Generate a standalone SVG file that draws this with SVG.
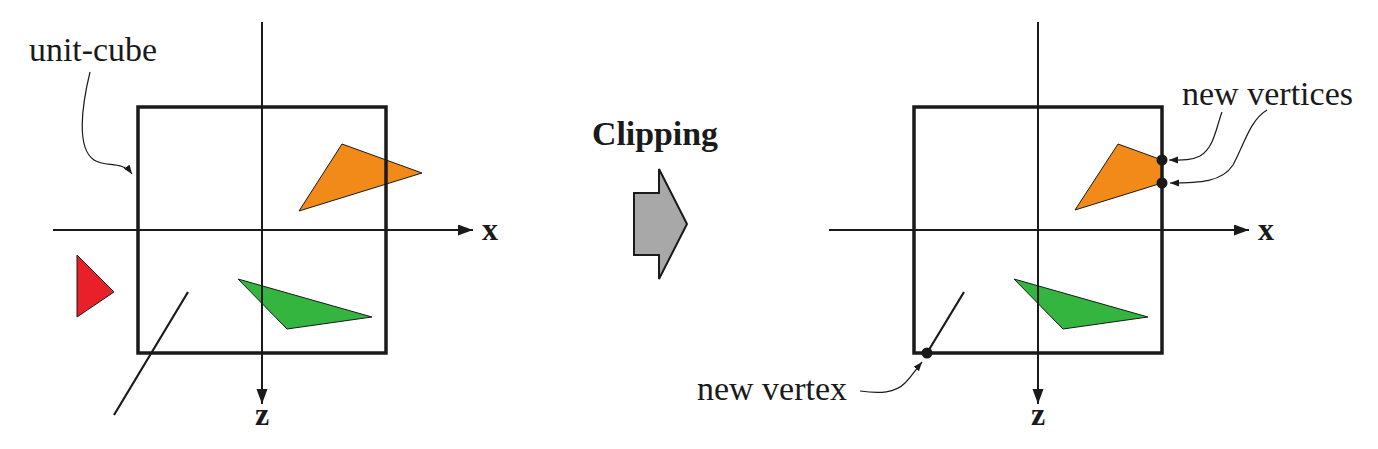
<svg xmlns="http://www.w3.org/2000/svg" width="1378" height="449" viewBox="0 0 1378 449">
<style>
.ax{stroke:#1a1a1a;stroke-width:2;fill:none}
.box{stroke:#1a1a1a;stroke-width:3.5;fill:none}
.tri{stroke:#1a1a1a;stroke-width:1}
.lead{stroke:#1a1a1a;stroke-width:1.2;fill:none}
.seg{stroke:#1a1a1a;stroke-width:2.2;fill:none}
.lbl{font-family:"Liberation Serif","Times New Roman",serif;font-size:34px;fill:#1a1a1a}
.axl{font-family:"Liberation Serif","Times New Roman",serif;font-size:32px;font-weight:bold;fill:#1a1a1a}
.dot{fill:#1a1a1a}
</style>
<defs>
<marker id="ah" markerWidth="16" markerHeight="12" refX="15" refY="5.5" orient="auto" markerUnits="userSpaceOnUse">
<path d="M0,0 L15,5.5 L0,11 Z" fill="#1a1a1a"/>
</marker>
<marker id="sh" markerWidth="10" markerHeight="8" refX="9" refY="3.5" orient="auto" markerUnits="userSpaceOnUse">
<path d="M0,0 L9,3.5 L0,7 Z" fill="#1a1a1a"/>
</marker>
</defs>

<g id="left-panel">
<g id="left-orange"><polygon class="tri" points="342,144 422,173 299,211" fill="#F28A1A"/></g>
<g id="left-red"><polygon class="tri" points="77,255 114,292 77,317" fill="#E8202A"/></g>
<g id="left-green"><polygon class="tri" points="238,279 372,317 287,329" fill="#33B540"/></g>
<g id="left-cube"><rect class="box" x="138" y="107" width="248" height="246"/></g>
<g id="left-line"><line class="seg" x1="188" y1="292" x2="114" y2="415"/></g>
<g id="left-axes">
<line class="ax" x1="262" y1="22" x2="262" y2="404" marker-end="url(#ah)"/>
<line class="ax" x1="53" y1="230" x2="473" y2="230" marker-end="url(#ah)"/>
<text class="axl" x="482" y="240">x</text>
<text class="axl" x="255" y="425">z</text>
</g>
<g id="unit-cube-label">
<text class="lbl" x="29" y="61" textLength="128" lengthAdjust="spacingAndGlyphs">unit-cube</text>
</g>
</g>

<g id="clipping">
<text class="lbl" x="592" y="145" font-weight="bold" textLength="126" lengthAdjust="spacingAndGlyphs">Clipping</text>
<polygon points="634,193 659,193 659,169 687,224 659,279 659,255 634,255" fill="#A8A8A8" stroke="#1a1a1a" stroke-width="2" stroke-linejoin="miter"/>
</g>

<g id="right-panel">
<g id="right-orange"><polygon class="tri" points="1118,144 1162,160 1162,183 1075,210" fill="#F28A1A"/></g>
<g id="right-green"><polygon class="tri" points="1014,279 1148,317 1063,329" fill="#33B540"/></g>
<g id="right-cube"><rect class="box" x="914" y="107" width="248" height="246"/></g>
<g id="right-line"><line class="seg" x1="964" y1="292" x2="927" y2="353"/></g>
<g id="right-axes">
<line class="ax" x1="1038" y1="22" x2="1038" y2="404" marker-end="url(#ah)"/>
<line class="ax" x1="829" y1="230" x2="1249" y2="230" marker-end="url(#ah)"/>
<text class="axl" x="1258" y="240">x</text>
<text class="axl" x="1031" y="425">z</text>
</g>
<g id="new-vertices">
<circle class="dot" cx="1162" cy="160" r="5.5"/>
<circle class="dot" cx="1162" cy="183" r="5.5"/>
<circle class="dot" cx="927" cy="353" r="5.5"/>
<text class="lbl" x="1182" y="105" textLength="171" lengthAdjust="spacingAndGlyphs">new vertices</text>
<text class="lbl" x="697" y="400" textLength="150" lengthAdjust="spacingAndGlyphs">new vertex</text>
</g>
</g>

<g id="connectors">
<path class="lead" d="M90,72 C82,105 76,148 94,160 C106,168 122,160 132,174" marker-end="url(#sh)"/>
<path class="lead" d="M1222,112 C1216,128 1214,148 1200,156 C1190,161 1180,160 1169,160" marker-end="url(#sh)"/>
<path class="lead" d="M1267,110 C1250,120 1244,145 1233,165 C1222,182 1200,183 1170,183" marker-end="url(#sh)"/>
<path class="lead" d="M860,391 C880,394 895,393 905,383 C912,376 917,368 922,362" marker-end="url(#sh)"/>
</g>
</svg>
